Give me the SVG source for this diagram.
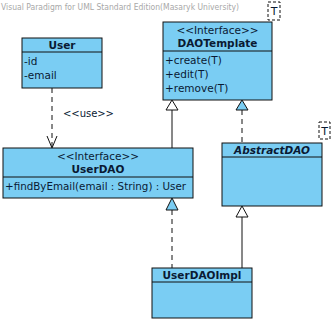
<svg xmlns="http://www.w3.org/2000/svg" width="336" height="322" viewBox="0 0 336 322">
<style>
.box{fill:#7ACDF3;stroke:#111;stroke-width:1}
.sep{stroke:#111;stroke-width:1}
.t{font-family:"DejaVu Sans",sans-serif;font-size:10.5px;fill:#0a1a33}
.b{font-weight:bold;text-anchor:middle}
.c{text-anchor:middle}
.line{stroke:#111;stroke-width:1;fill:none}
.dash{stroke-dasharray:5,4}
.tmpl{fill:#fff;stroke:#111;stroke-width:1;stroke-dasharray:3,2}
.hollow{fill:#fff;stroke:#111;stroke-width:1}
.blue{fill:#7ACDF3;stroke:#111;stroke-width:1}
</style>
<rect width="336" height="322" fill="#fff"/>
<text x="1" y="10" textLength="238" lengthAdjust="spacingAndGlyphs" style="font-family:'DejaVu Sans',sans-serif;font-size:8.5px;fill:#a8a8a8">Visual Paradigm for UML Standard Edition(Masaryk University)</text>

<g id="connectors">
  <path class="line dash" d="M52,88 V147"/>
  <path class="line" d="M47,136 L52,148 L57,136"/>
  <text class="t" x="63" y="117" textLength="51" style="font-size:10px">&lt;&lt;use&gt;&gt;</text>
  <path class="line" d="M172,110 V148"/>
  <polygon class="hollow" points="172,100 166,110 178,110"/>
  <path class="line dash" d="M242,110 V143"/>
  <polygon class="blue" points="242,100 236,110 248,110"/>
  <path class="line dash" d="M172,210 V268"/>
  <polygon class="blue" points="172,198 166,210 178,210"/>
  <path class="line" d="M242,217 V268"/>
  <polygon class="hollow" points="242,206 236,217 248,217"/>
</g>

<g id="User">
  <rect class="box" x="22" y="38" width="80" height="50"/>
  <line class="sep" x1="22" y1="52" x2="102" y2="52"/>
  <text class="t b" x="62" y="49">User</text>
  <text class="t" x="24" y="65">-id</text>
  <text class="t" x="24" y="79">-email</text>
</g>

<g id="DAOTemplate">
  <rect class="box" x="163" y="22" width="109" height="78"/>
  <line class="sep" x1="163" y1="51" x2="272" y2="51"/>
  <rect class="tmpl" x="268" y="2" width="12" height="18"/>
  <text class="t c" x="274" y="15" style="font-size:11px">T</text>
  <text class="t c" x="217.5" y="34">&lt;&lt;Interface&gt;&gt;</text>
  <text class="t b" x="217.5" y="47">DAOTemplate</text>
  <text class="t" x="165" y="64">+create(T)</text>
  <text class="t" x="165" y="78">+edit(T)</text>
  <text class="t" x="165" y="92">+remove(T)</text>
</g>

<g id="UserDAO">
  <rect class="box" x="3" y="148" width="190" height="50"/>
  <line class="sep" x1="3" y1="177" x2="193" y2="177"/>
  <text class="t c" x="98" y="160">&lt;&lt;Interface&gt;&gt;</text>
  <text class="t b" x="98" y="173">UserDAO</text>
  <text class="t" x="5" y="190" textLength="181" lengthAdjust="spacingAndGlyphs">+findByEmail(email : String) : User</text>
</g>

<g id="AbstractDAO">
  <rect class="box" x="222" y="143" width="100" height="63"/>
  <line class="sep" x1="222" y1="157" x2="322" y2="157"/>
  <rect class="tmpl" x="319" y="122" width="11" height="17"/>
  <text class="t c" x="324.5" y="135" style="font-size:11px">T</text>
  <text class="t b" x="272" y="154" style="font-style:italic">AbstractDAO</text>
</g>

<g id="UserDAOImpl">
  <rect class="box" x="152" y="268" width="100" height="50"/>
  <line class="sep" x1="152" y1="282" x2="252" y2="282"/>
  <text class="t b" x="202" y="279">UserDAOImpl</text>
</g>
</svg>
